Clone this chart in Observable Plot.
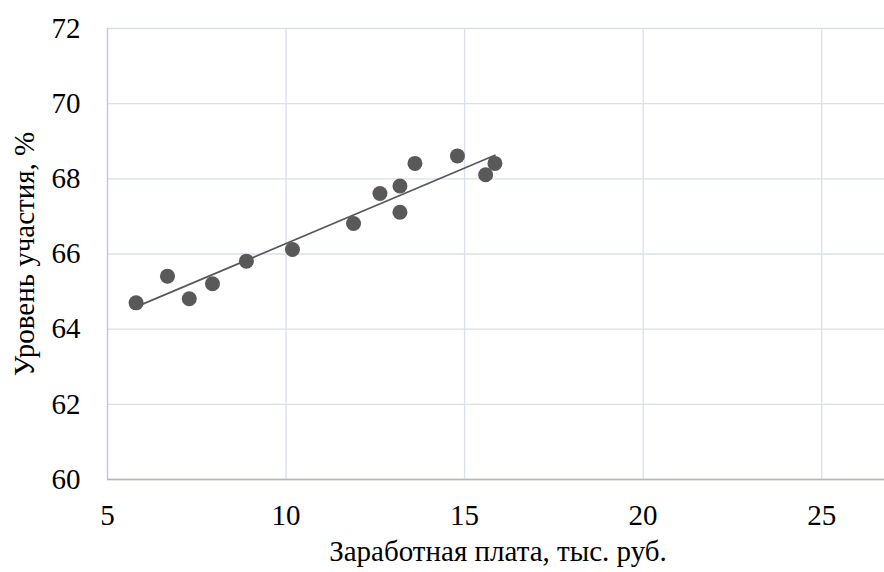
<!DOCTYPE html>
<html><head><meta charset="utf-8">
<script src="https://cdn.jsdelivr.net/npm/d3@7"></script>
<script src="https://cdn.jsdelivr.net/npm/@observablehq/plot@0.6"></script>
<style>
body{margin:0;background:#fff;}
svg text{font-family:"Liberation Serif","Times New Roman",serif !important;}
</style>
</head><body><div id="chart"></div>
<script>
const wage = [5.80, 6.68, 7.29, 7.94, 8.89, 10.18, 11.89, 12.63, 13.19, 13.19, 13.61, 14.80, 15.59, 15.85];
const participation = [64.70, 65.41, 64.81, 65.21, 65.81, 66.12, 66.81, 67.61, 67.81, 67.11, 68.41, 68.61, 68.11, 68.41];
const xTicks = [5, 10, 15, 20, 25];
const yTicks = [60, 62, 64, 66, 68, 70, 72];
const xLabel = "Заработная плата, тыс. руб.";
const yLabel = "Уровень участия, %";

const data = wage.map((w, i) => ({wage: w, part: participation[i]}));
const font = {fontFamily: "Liberation Serif", fontSize: 29, fill: "#000"};

const chart = Plot.plot({
  width: 884, height: 572,
  marginLeft: 107, marginRight: 0, marginTop: 28, marginBottom: 93,
  style: {background: "#fff", color: "#000", overflow: "visible", fontFamily: "Liberation Serif", fontSize: "29px"},
  x: {domain: [5, 26.76], ticks: xTicks},
  y: {domain: [60, 72], ticks: yTicks},
  marks: [
    Plot.gridX(xTicks, {stroke: "#dadfe8", strokeOpacity: 1, strokeWidth: 1.3}),
    Plot.gridY(yTicks, {stroke: "#dadfe8", strokeOpacity: 1, strokeWidth: 1.3}),
    Plot.ruleX([5], {stroke: "#c3cad8", strokeWidth: 1.3}),
    Plot.ruleY([60], {stroke: "#aeb7c6", strokeWidth: 1.6}),
    Plot.axisX(xTicks, {...font, tickSize: 0, tickPadding: 25, label: null}),
    Plot.axisY(yTicks, {...font, tickSize: 0, tickPadding: 27, label: null}),
    Plot.text([xLabel], {...font, frameAnchor: "bottom", dx: 2, dy: 72, lineAnchor: "middle", textAnchor: "middle"}),
    Plot.text([yLabel], {...font, frameAnchor: "left", rotate: -90, dx: -83, dy: 0, lineAnchor: "middle", textAnchor: "middle"}),
    Plot.linearRegressionY(data, {x: "wage", y: "part", ci: 0, stroke: "#595959", strokeWidth: 1.7}),
    Plot.dot(data, {x: "wage", y: "part", r: 7.5, fill: "#595959"})
  ]
});
d3.select(chart).selectAll("text")
  .attr("font-family", "Liberation Serif")
  .style("font-family", "'Liberation Serif'")
  .style("font-size", "29px");
document.getElementById("chart").appendChild(chart);
</script>
</body></html>
